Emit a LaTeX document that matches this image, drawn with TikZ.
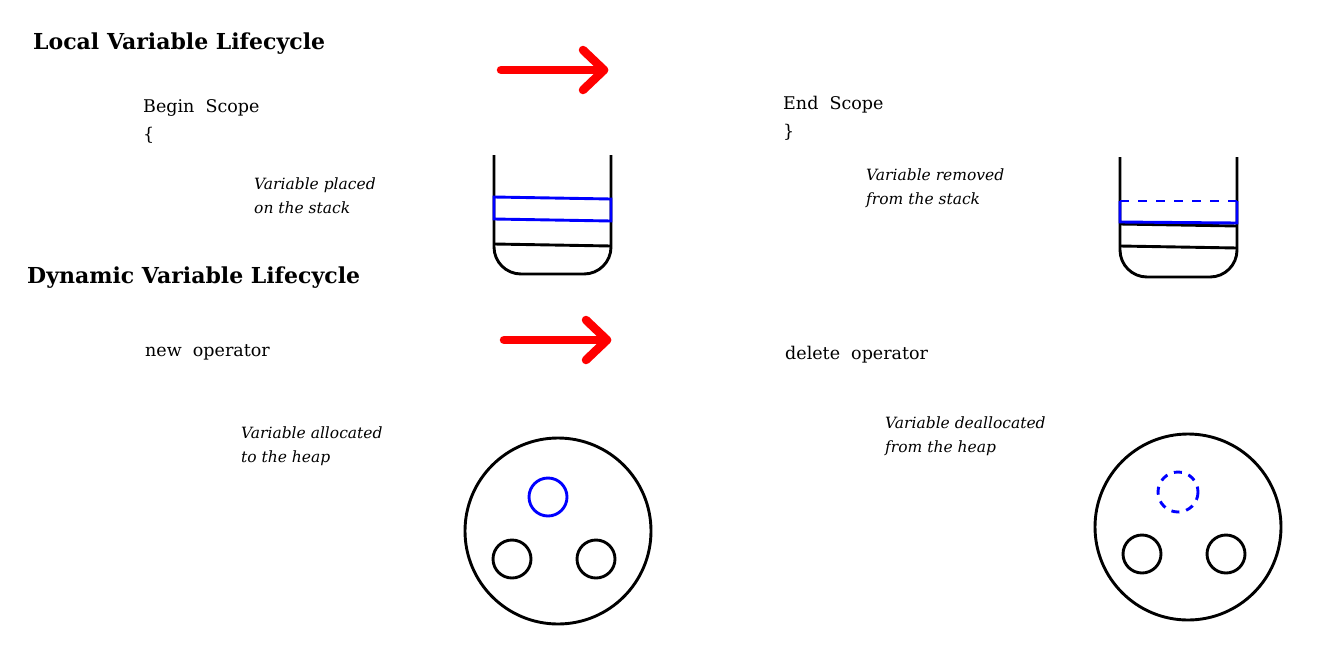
\documentclass[tikz,border=0pt]{standalone}
\usepackage{fontspec}
\setmainfont{DejaVu Serif}
\begin{document}
\begin{tikzpicture}[x=1pt,y=-1pt,
  title/.style={anchor=base west,inner sep=0pt,font=\fontsize{22}{26}\selectfont\bfseries},
  code/.style={anchor=base west,inner sep=0pt,font=\fontsize{17.5}{28}\selectfont,align=left},
  note/.style={anchor=base west,inner sep=0pt,font=\fontsize{15.5}{23.5}\selectfont\itshape,align=left},
  redarrow/.style={red,line width=8.5pt,line cap=round,line join=round},
  blk/.style={black,line width=2.9pt},
  blu/.style={blue,line width=2.9pt},
]
\useasboundingbox (0,0) rectangle (1332,659);
% titles
\node[title] (t1) at (33,49) {Local Variable Lifecycle};
\node[title] (t2) at (27,283) {Dynamic Variable Lifecycle};
% code labels
\node[code] (bs) at (143,140) {Begin\ \ Scope\\\{};
\node[code] (es) at (783,137) {End\ \ Scope\\\}};
\node[code] (no) at (145,356) {new\ \ operator};
\node[code] (do) at (785,359) {delete\ \ operator};
% notes
\node[note] (n1) at (254,213) {Variable placed\\on the stack};
\node[note] (n2) at (866,204) {Variable removed\\from the stack};
\node[note] (n3) at (241,462) {Variable allocated\\to the heap};
\node[note] (n4) at (885,452) {Variable deallocated\\from the heap};
% arrows
\coordinate (a1s) at (501,70); \coordinate (a1e) at (604,70);
\draw[redarrow] (a1s) -- (a1e);
\draw[redarrow] (583,50) -- (a1e) -- (583,90);
\coordinate (a2s) at (504,340); \coordinate (a2e) at (607,340);
\draw[redarrow] (a2s) -- (a2e);
\draw[redarrow] (586,320) -- (a2e) -- (586,360);
% stack 1
\draw[blk,rounded corners=27pt] (494,155) -- (494,274) -- (611,274) -- (611,155);
\draw[blk] (494,244) -- (611,246);
\draw[blu] (494,197) -- (611,199) -- (611,221) -- (494,219) -- cycle;
% stack 2
\draw[blk,rounded corners=27pt] (1120,157) -- (1120,277) -- (1237,277) -- (1237,157);
\draw[blk] (1120,224) -- (1237,226);
\draw[blk] (1120,246) -- (1237,248);
\draw[blu] (1120,201) -- (1120,222) -- (1237,223) -- (1237,201);
\draw[blu,dash pattern=on 9pt off 9pt] (1120,201) -- (1237,201);
% heap 1
\draw[blk] (558,531) circle[radius=93];
\draw[blu] (548,497) circle[radius=19];
\draw[blk] (512,559) circle[radius=19];
\draw[blk] (596,559) circle[radius=19];
% heap 2
\draw[blk] (1188,527) circle[radius=93];
\draw[blu,dash pattern=on 8pt off 7pt] (1178,492) circle[radius=20];
\draw[blk] (1142,554) circle[radius=19];
\draw[blk] (1226,554) circle[radius=19];
\end{tikzpicture}
\end{document}
